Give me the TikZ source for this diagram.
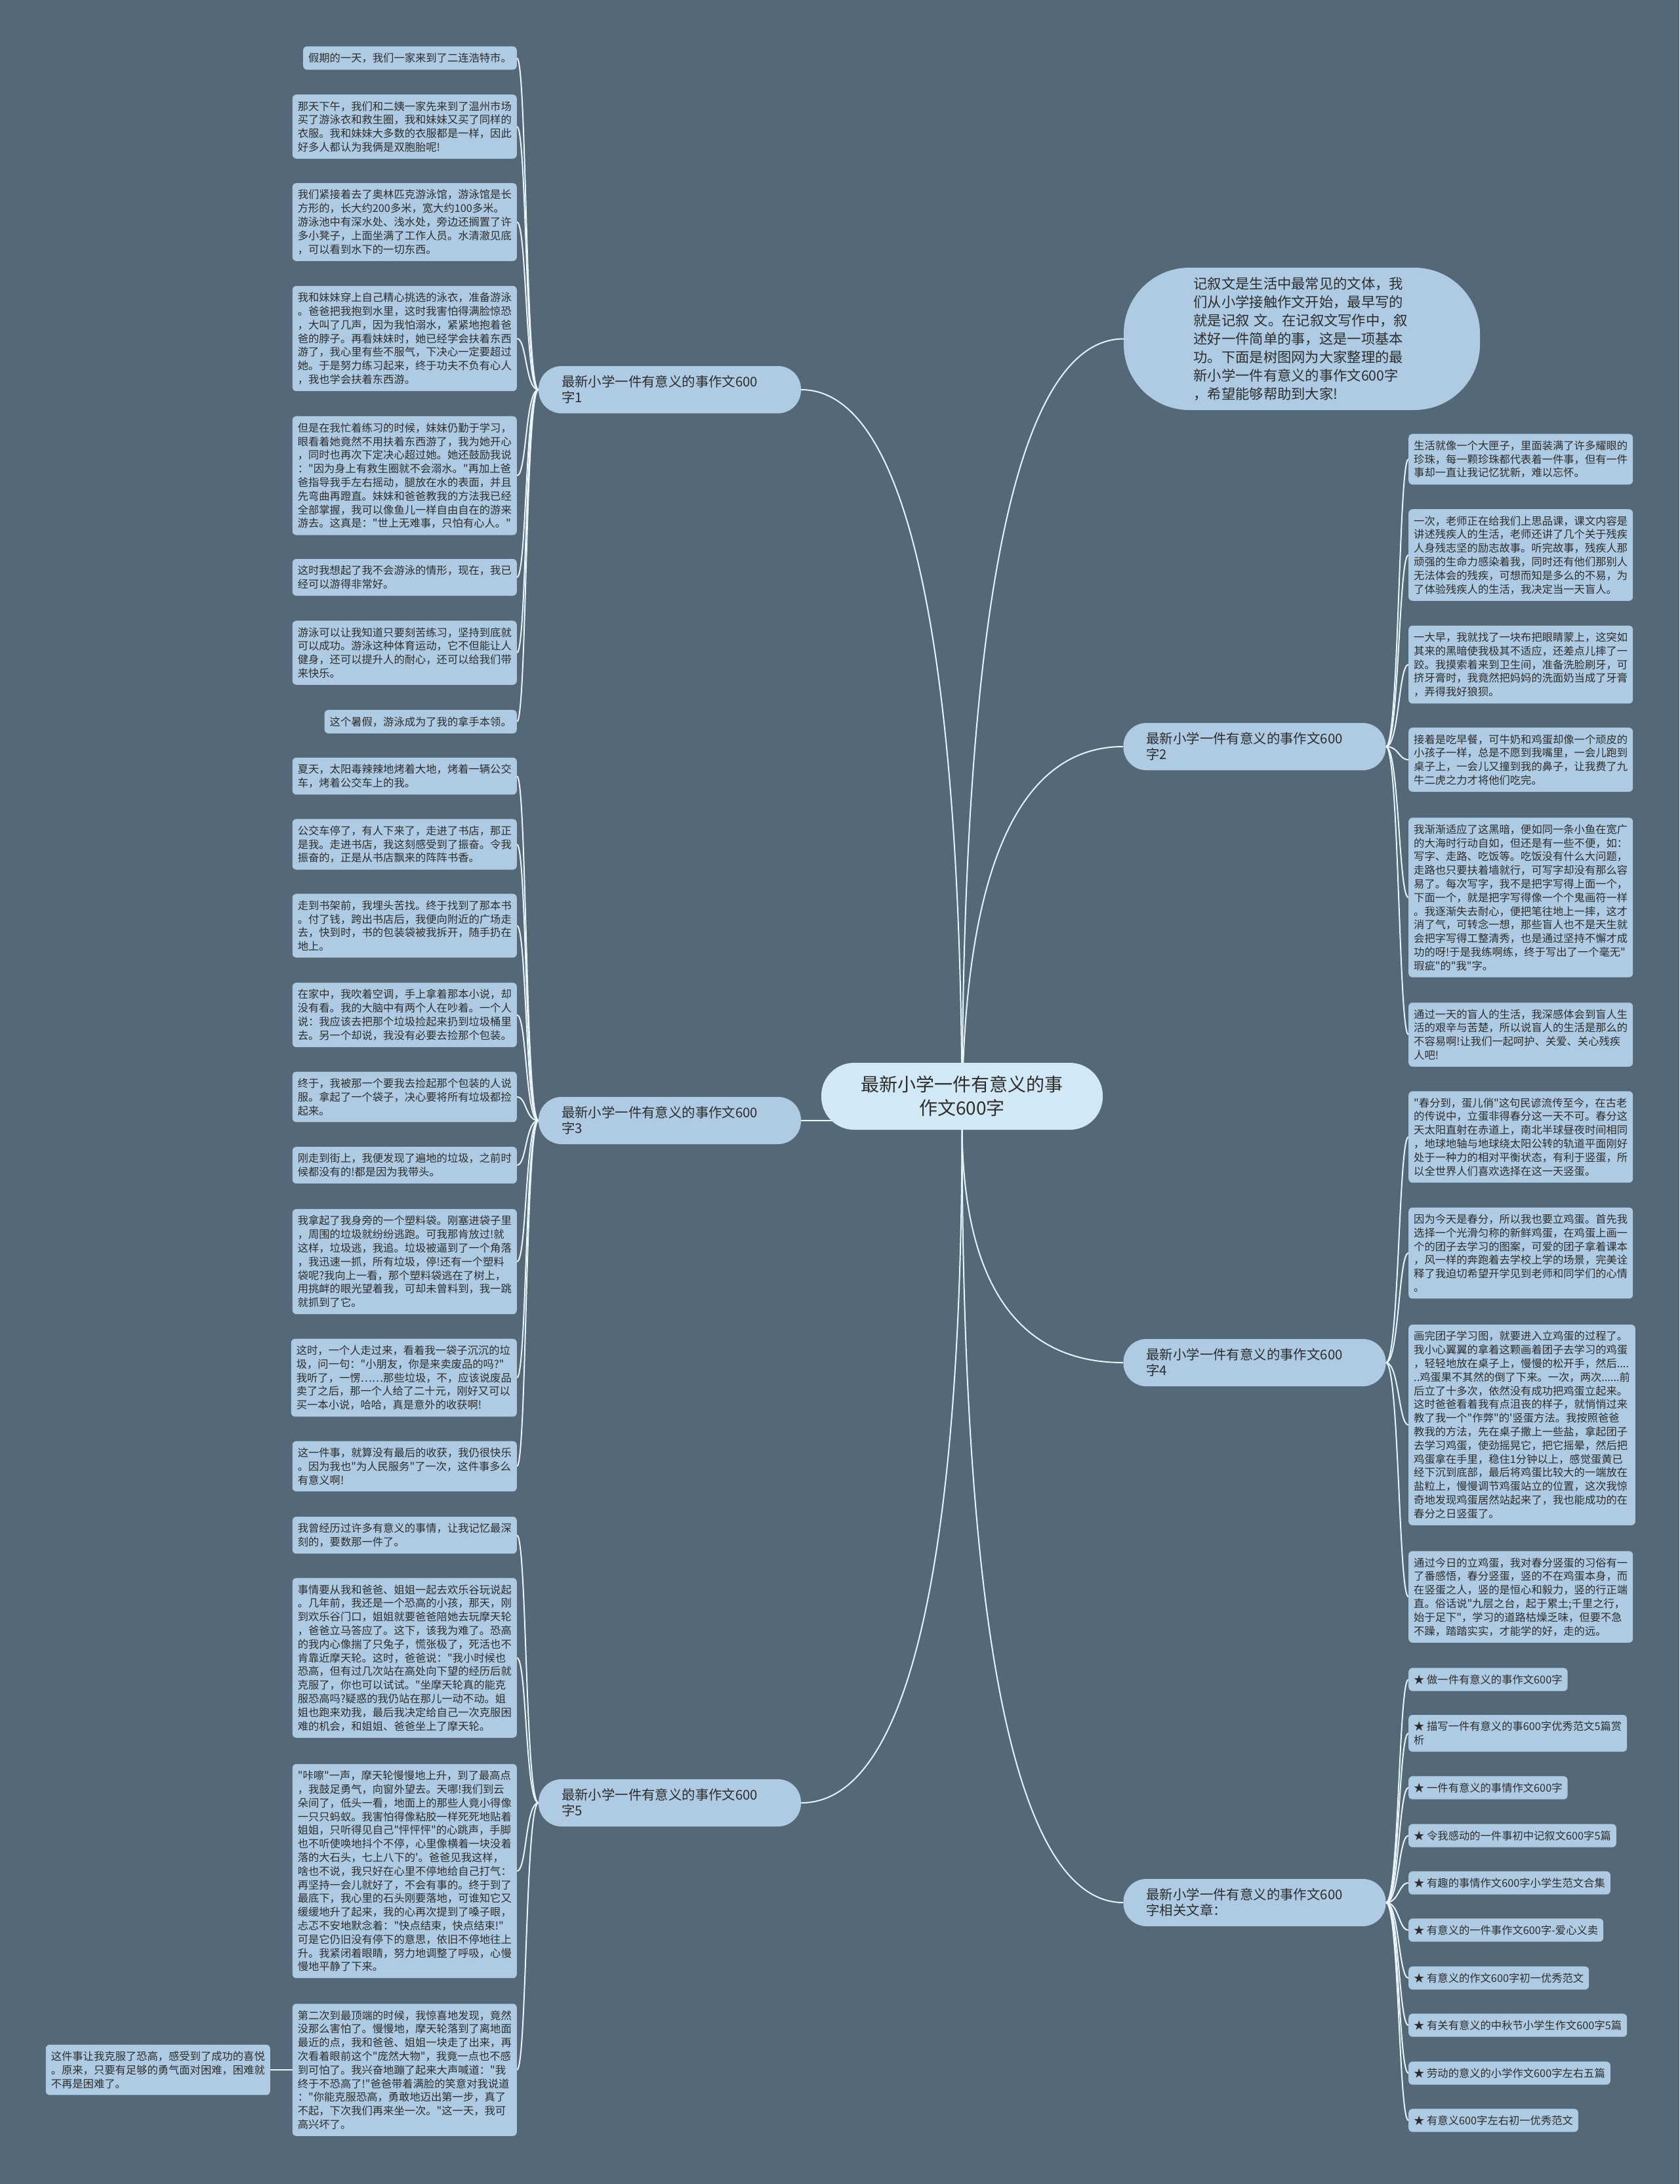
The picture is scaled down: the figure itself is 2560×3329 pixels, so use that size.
\documentclass[tikz,border=0pt]{standalone}
\usepackage{fontspec}
\setmainfont{Noto Sans CJK SC}
\newfontfamily\cjk{Noto Sans CJK SC}
\usetikzlibrary{backgrounds}
\definecolor{mapbg}{RGB}{84,104,120}
\definecolor{leafblue}{RGB}{174,203,227}
\definecolor{rootblue}{RGB}{211,232,245}
\definecolor{wire}{RGB}{232,244,250}
\definecolor{ink}{RGB}{45,45,45}
\newcommand{\leaffont}{\cjk\fontsize{16.3pt}{20.8pt}\selectfont}
\newcommand{\branchfont}{\cjk\fontsize{20.4pt}{24pt}\selectfont}
\newcommand{\rootfont}{\cjk\fontsize{28pt}{36pt}\selectfont}
\newcommand{\introfont}{\cjk\fontsize{21.3pt}{28pt}\selectfont}

\begin{document}
\begin{tikzpicture}[
  x=1pt, y=-1pt,
  leaf/.style={fill=leafblue, text=ink, rounded corners=6pt, inner xsep=8pt, inner ysep=10pt, align=left, font=\leaffont},
  branch/.style={fill=leafblue, text=ink, rounded corners=35pt, minimum width=400pt, minimum height=72pt, text width=330pt, inner ysep=4pt, align=left, font=\branchfont},
  rootnode/.style={fill=rootblue, text=ink, rounded corners=50pt, minimum width=429pt, minimum height=102pt, align=center, font=\rootfont},
  introbox/.style={fill=leafblue, text=ink, rounded corners=100pt, minimum width=543pt, minimum height=217pt, text width=330pt, align=left, font=\introfont},
  link/.style={draw=wire, line width=2pt}
]
\useasboundingbox (0,0) rectangle (2560,3329);

% centre and main branches
\node[rootnode] (root) at (1466.5,1671) {最新小学一件有意义的事\\作文600字};
\coordinate (hub) at ([yshift=10pt]root.south);
\node[introbox] (intro) at (1984.5,516.5) {记叙文是生活中最常见的文体，我\\们从小学接触作文开始，最早写的\\就是记叙 文。在记叙文写作中，叙\\述好一件简单的事，这是一项基本\\功。下面是树图网为大家整理的最\\新小学一件有意义的事作文600字\\，希望能够帮助到大家!};
\node[branch] (essay1) at (1021,594) {最新小学一件有意义的事作文600\\字1};
\node[branch] (essay3) at (1021,1708) {最新小学一件有意义的事作文600\\字3};
\node[branch] (essay5) at (1021,2748) {最新小学一件有意义的事作文600\\字5};
\node[branch] (essay2) at (1912.5,1138) {最新小学一件有意义的事作文600\\字2};
\node[branch] (essay4) at (1912.5,2077) {最新小学一件有意义的事作文600\\字4};
\node[branch] (links) at (1912.5,2900) {最新小学一件有意义的事作文600\\字相关文章：};

% essay 1
\node[leaf, anchor=east] (e1a) at (788,88.5) {假期的一天，我们一家来到了二连浩特市。};
\node[leaf, anchor=east] (e1b) at (788,193) {那天下午，我们和二姨一家先来到了温州市场\\买了游泳衣和救生圈，我和妹妹又买了同样的\\衣服。我和妹妹大多数的衣服都是一样，因此\\好多人都认为我俩是双胞胎呢!};
\node[leaf, anchor=east] (e1c) at (788,338.5) {我们紧接着去了奥林匹克游泳馆，游泳馆是长\\方形的，长大约200多米，宽大约100多米。\\游泳池中有深水处、浅水处，旁边还搁置了许\\多小凳子，上面坐满了工作人员。水清澈见底\\，可以看到水下的一切东西。};
\node[leaf, anchor=east] (e1d) at (788,516) {我和妹妹穿上自己精心挑选的泳衣，准备游泳\\。爸爸把我抱到水里，这时我害怕得满脸惊恐\\，大叫了几声，因为我怕溺水，紧紧地抱着爸\\爸的脖子。再看妹妹时，她已经学会扶着东西\\游了，我心里有些不服气，下决心一定要超过\\她。于是努力练习起来，终于功夫不负有心人\\，我也学会扶着东西游。};
\node[leaf, anchor=east] (e1e) at (788,725) {但是在我忙着练习的时候，妹妹仍勤于学习，\\眼看着她竟然不用扶着东西游了，我为她开心\\，同时也再次下定决心超过她。她还鼓励我说\\："因为身上有救生圈就不会溺水。"再加上爸\\爸指导我手左右摇动，腿放在水的表面，并且\\先弯曲再蹬直。妹妹和爸爸教我的方法我已经\\全部掌握，我可以像鱼儿一样自由自在的游来\\游去。这真是："世上无难事，只怕有心人。"};
\node[leaf, anchor=east] (e1f) at (788,880) {这时我想起了我不会游泳的情形，现在，我已\\经可以游得非常好。};
\node[leaf, anchor=east] (e1g) at (788,995) {游泳可以让我知道只要刻苦练习，坚持到底就\\可以成功。游泳这种体育运动，它不但能让人\\健身，还可以提升人的耐心，还可以给我们带\\来快乐。};
\node[leaf, anchor=east] (e1h) at (788,1100) {这个暑假，游泳成为了我的拿手本领。};

% essay 3
\node[leaf, anchor=east] (e3a) at (788,1183) {夏天，太阳毒辣辣地烤着大地，烤着一辆公交\\车，烤着公交车上的我。};
\node[leaf, anchor=east] (e3b) at (788,1287) {公交车停了，有人下来了，走进了书店，那正\\是我。走进书店，我这刻感受到了振奋。令我\\振奋的，正是从书店飘来的阵阵书香。};
\node[leaf, anchor=east] (e3c) at (788,1411) {走到书架前，我埋头苦找。终于找到了那本书\\。付了钱，跨出书店后，我便向附近的广场走\\去，快到时，书的包装袋被我拆开，随手扔在\\地上。};
\node[leaf, anchor=east] (e3d) at (788,1547) {在家中，我吹着空调，手上拿着那本小说，却\\没有看。我的大脑中有两个人在吵着。一个人\\说：我应该去把那个垃圾捡起来扔到垃圾桶里\\去。另一个却说，我没有必要去捡那个包装。};
\node[leaf, anchor=east] (e3e) at (788,1672) {终于，我被那一个要我去捡起那个包装的人说\\服。拿起了一个袋子，决心要将所有垃圾都捡\\起来。};
\node[leaf, anchor=east] (e3f) at (788,1776) {刚走到街上，我便发现了遍地的垃圾，之前时\\候都没有的!都是因为我带头。};
\node[leaf, anchor=east] (e3g) at (788,1923) {我拿起了我身旁的一个塑料袋。刚塞进袋子里\\，周围的垃圾就纷纷逃跑。可我那肯放过!就\\这样，垃圾逃，我追。垃圾被逼到了一个角落\\，我迅速一抓，所有垃圾，停!还有一个塑料\\袋呢?我向上一看，那个塑料袋逃在了树上，\\用挑衅的眼光望着我，可却未曾料到，我一跳\\就抓到了它。};
\node[leaf, anchor=east] (e3h) at (788,2100) {这时，一个人走过来，看着我一袋子沉沉的垃\\圾，问一句："小朋友，你是来卖废品的吗?"\\我听了，一愣……那些垃圾，不，应该说废品\\卖了之后，那一个人给了二十元，刚好又可以\\买一本小说，哈哈，真是意外的收获啊!};
\node[leaf, anchor=east] (e3i) at (788,2235) {这一件事，就算没有最后的收获，我仍很快乐\\。因为我也"为人民服务"了一次，这件事多么\\有意义啊!};

% essay 5
\node[leaf, anchor=east] (e5a) at (788,2340) {我曾经历过许多有意义的事情，让我记忆最深\\刻的，要数那一件了。};
\node[leaf, anchor=east] (e5b) at (788,2527) {事情要从我和爸爸、姐姐一起去欢乐谷玩说起\\。几年前，我还是一个恐高的小孩，那天，刚\\到欢乐谷门口，姐姐就要爸爸陪她去玩摩天轮\\，爸爸立马答应了。这下，该我为难了。恐高\\的我内心像揣了只兔子，慌张极了，死活也不\\肯靠近摩天轮。这时，爸爸说："我小时候也\\恐高，但有过几次站在高处向下望的经历后就\\克服了，你也可以试试。"坐摩天轮真的能克\\服恐高吗?疑惑的我仍站在那儿一动不动。姐\\姐也跑来劝我，最后我决定给自己一次克服困\\难的机会，和姐姐、爸爸坐上了摩天轮。};
\node[leaf, anchor=east] (e5c) at (788,2852) {"咔嚓"一声，摩天轮慢慢地上升，到了最高点\\，我鼓足勇气，向窗外望去。天哪!我们到云\\朵间了，低头一看，地面上的那些人竟小得像\\一只只蚂蚁。我害怕得像粘胶一样死死地贴着\\姐姐，只听得见自己"怦怦怦"的心跳声，手脚\\也不听使唤地抖个不停，心里像横着一块没着\\落的大石头，七上八下的'。爸爸见我这样，\\啥也不说，我只好在心里不停地给自己打气：\\再坚持一会儿就好了，不会有事的。终于到了\\最底下，我心里的石头刚要落地，可谁知它又\\缓缓地升了起来，我的心再次提到了嗓子眼，\\忐忑不安地默念着："快点结束，快点结束!"\\可是它仍旧没有停下的意思，依旧不停地往上\\升。我紧闭着眼睛，努力地调整了呼吸，心慢\\慢地平静了下来。};
\node[leaf, anchor=east] (e5d) at (788,3155) {第二次到最顶端的时候，我惊喜地发现，竟然\\没那么害怕了。慢慢地，摩天轮落到了离地面\\最近的点，我和爸爸、姐姐一块走了出来，再\\次看着眼前这个"庞然大物"，我竟一点也不感\\到可怕了。我兴奋地蹦了起来大声喊道："我\\终于不恐高了!"爸爸带着满脸的笑意对我说道\\："你能克服恐高，勇敢地迈出第一步，真了\\不起，下次我们再来坐一次。"这一天，我可\\高兴坏了。};
\node[leaf, anchor=east] (e5e) at (412,3155) {这件事让我克服了恐高，感受到了成功的喜悦\\。原来，只要有足够的勇气面对困难，困难就\\不再是困难了。};

% essay 2
\node[leaf, anchor=west] (e2a) at (2147,700) {生活就像一个大匣子，里面装满了许多耀眼的\\珍珠，每一颗珍珠都代表着一件事，但有一件\\事却一直让我记忆犹新，难以忘怀。};
\node[leaf, anchor=west] (e2b) at (2147,846) {一次，老师正在给我们上思品课，课文内容是\\讲述残疾人的生活，老师还讲了几个关于残疾\\人身残志坚的励志故事。听完故事，残疾人那\\顽强的生命力感染着我，同时还有他们那别人\\无法体会的残疾，可想而知是多么的不易，为\\了体验残疾人的生活，我决定当一天盲人。};
\node[leaf, anchor=west] (e2c) at (2147,1013) {一大早，我就找了一块布把眼睛蒙上，这突如\\其来的黑暗使我极其不适应，还差点儿摔了一\\跤。我摸索着来到卫生间，准备洗脸刷牙，可\\挤牙膏时，我竟然把妈妈的洗面奶当成了牙膏\\，弄得我好狼狈。};
\node[leaf, anchor=west] (e2d) at (2147,1158) {接着是吃早餐，可牛奶和鸡蛋却像一个顽皮的\\小孩子一样，总是不愿到我嘴里，一会儿跑到\\桌子上，一会儿又撞到我的鼻子，让我费了九\\牛二虎之力才将他们吃完。};
\node[leaf, anchor=west] (e2e) at (2147,1368) {我渐渐适应了这黑暗，便如同一条小鱼在宽广\\的大海时行动自如，但还是有一些不便，如：\\写字、走路、吃饭等。吃饭没有什么大问题，\\走路也只要扶着墙就行，可写字却没有那么容\\易了。每次写字，我不是把字写得上面一个，\\下面一个，就是把字写得像一个个鬼画符一样\\。我逐渐失去耐心，便把笔往地上一摔，这才\\消了气，可转念一想，那些盲人也不是天生就\\会把字写得工整清秀，也是通过坚持不懈才成\\功的呀!于是我练啊练，终于写出了一个毫无"\\瑕疵"的"我"字。};
\node[leaf, anchor=west] (e2f) at (2147,1577) {通过一天的盲人的生活，我深感体会到盲人生\\活的艰辛与苦楚，所以说盲人的生活是那么的\\不容易啊!让我们一起呵护、关爱、关心残疾\\人吧!};

% essay 4
\node[leaf, anchor=west] (e4a) at (2147,1733) {"春分到，蛋儿俏"这句民谚流传至今，在古老\\的传说中，立蛋非得春分这一天不可。春分这\\天太阳直射在赤道上，南北半球昼夜时间相同\\，地球地轴与地球绕太阳公转的轨道平面刚好\\处于一种力的相对平衡状态，有利于竖蛋，所\\以全世界人们喜欢选择在这一天竖蛋。};
\node[leaf, anchor=west] (e4b) at (2147,1910) {因为今天是春分，所以我也要立鸡蛋。首先我\\选择一个光滑匀称的新鲜鸡蛋，在鸡蛋上画一\\个的团子去学习的图案，可爱的团子拿着课本\\，风一样的奔跑着去学校上学的场景，完美诠\\释了我迫切希望开学见到老师和同学们的心情\\。};
\node[leaf, anchor=west] (e4c) at (2147,2172) {画完团子学习图，就要进入立鸡蛋的过程了。\\我小心翼翼的拿着这颗画着团子去学习的鸡蛋\\，轻轻地放在桌子上，慢慢的松开手，然后....\\..鸡蛋果不其然的倒了下来。一次，两次......前\\后立了十多次，依然没有成功把鸡蛋立起来。\\这时爸爸看着我有点沮丧的样子，就悄悄过来\\教了我一个"作弊"的'竖蛋方法。我按照爸爸\\教我的方法，先在桌子撒上一些盐，拿起团子\\去学习鸡蛋，使劲摇晃它，把它摇晕，然后把\\鸡蛋拿在手里，稳住1分钟以上，感觉蛋黄已\\经下沉到底部，最后将鸡蛋比较大的一端放在\\盐粒上，慢慢调节鸡蛋站立的位置，这次我惊\\奇地发现鸡蛋居然站起来了，我也能成功的在\\春分之日竖蛋了。};
\node[leaf, anchor=west] (e4d) at (2147,2434) {通过今日的立鸡蛋，我对春分竖蛋的习俗有一\\了番感悟，春分竖蛋，竖的不在鸡蛋本身，而\\在竖蛋之人，竖的是恒心和毅力，竖的行正端\\直。俗话说"九层之台，起于累土;千里之行，\\始于足下"，学习的道路枯燥乏味，但要不急\\不躁，踏踏实实，才能学的好，走的远。};

% related articles
\node[leaf, anchor=west] (lk1) at (2147,2560) {★ 做一件有意义的事作文600字};
\node[leaf, anchor=west] (lk2) at (2147,2642) {★ 描写一件有意义的事600字优秀范文5篇赏\\析};
\node[leaf, anchor=west] (lk3) at (2147,2725) {★ 一件有意义的事情作文600字};
\node[leaf, anchor=west] (lk4) at (2147,2798) {★ 令我感动的一件事初中记叙文600字5篇};
\node[leaf, anchor=west] (lk5) at (2147,2870) {★ 有趣的事情作文600字小学生范文合集};
\node[leaf, anchor=west] (lk6) at (2147,2942) {★ 有意义的一件事作文600字-爱心义卖};
\node[leaf, anchor=west] (lk7) at (2147,3015) {★ 有意义的作文600字初一优秀范文};
\node[leaf, anchor=west] (lk8) at (2147,3087) {★ 有关有意义的中秋节小学生作文600字5篇};
\node[leaf, anchor=west] (lk9) at (2147,3160) {★ 劳动的意义的小学作文600字左右五篇};
\node[leaf, anchor=west] (lk10) at (2147,3232) {★ 有意义600字左右初一优秀范文};

\begin{scope}[on background layer]
\fill[mapbg] (0,0) rectangle (2560,3329);
% centre to branches
\draw[link] (hub) .. controls +(0,-559) and +(195,0) .. (essay1.east);
\draw[link] (hub) .. controls +(0,-2) and +(195,0) .. (essay3.east);
\draw[link] (hub) .. controls +(0,518) and +(195,0) .. (essay5.east);
\draw[link] (hub) .. controls +(0,-598) and +(-198,0) .. (intro.west);
\draw[link] (hub) .. controls +(0,-287) and +(-198,0) .. (essay2.west);
\draw[link] (hub) .. controls +(0,182) and +(-198,0) .. (essay4.west);
\draw[link] (hub) .. controls +(0,594) and +(-198,0) .. (links.west);
% essay 1
\draw[link] (essay1.west) .. controls +(-20,0) and +(15,0) .. (e1a.east);
\draw[link] (essay1.west) .. controls +(-20,0) and +(15,0) .. (e1b.east);
\draw[link] (essay1.west) .. controls +(-20,0) and +(15,0) .. (e1c.east);
\draw[link] (essay1.west) .. controls +(-20,0) and +(15,0) .. (e1d.east);
\draw[link] (essay1.west) .. controls +(-20,0) and +(15,0) .. (e1e.east);
\draw[link] (essay1.west) .. controls +(-20,0) and +(15,0) .. (e1f.east);
\draw[link] (essay1.west) .. controls +(-20,0) and +(15,0) .. (e1g.east);
\draw[link] (essay1.west) .. controls +(-20,0) and +(15,0) .. (e1h.east);
% essay 3
\draw[link] (essay3.west) .. controls +(-20,0) and +(15,0) .. (e3a.east);
\draw[link] (essay3.west) .. controls +(-20,0) and +(15,0) .. (e3b.east);
\draw[link] (essay3.west) .. controls +(-20,0) and +(15,0) .. (e3c.east);
\draw[link] (essay3.west) .. controls +(-20,0) and +(15,0) .. (e3d.east);
\draw[link] (essay3.west) .. controls +(-20,0) and +(15,0) .. (e3e.east);
\draw[link] (essay3.west) .. controls +(-20,0) and +(15,0) .. (e3f.east);
\draw[link] (essay3.west) .. controls +(-20,0) and +(15,0) .. (e3g.east);
\draw[link] (essay3.west) .. controls +(-20,0) and +(15,0) .. (e3h.east);
\draw[link] (essay3.west) .. controls +(-20,0) and +(15,0) .. (e3i.east);
% essay 5
\draw[link] (essay5.west) .. controls +(-20,0) and +(15,0) .. (e5a.east);
\draw[link] (essay5.west) .. controls +(-20,0) and +(15,0) .. (e5b.east);
\draw[link] (essay5.west) .. controls +(-20,0) and +(15,0) .. (e5c.east);
\draw[link] (essay5.west) .. controls +(-20,0) and +(15,0) .. (e5d.east);
\draw[link] (e5d.west) -- (e5e.east);
% essay 2
\draw[link] (essay2.east) .. controls +(20,0) and +(-15,0) .. (e2a.west);
\draw[link] (essay2.east) .. controls +(20,0) and +(-15,0) .. (e2b.west);
\draw[link] (essay2.east) .. controls +(20,0) and +(-15,0) .. (e2c.west);
\draw[link] (essay2.east) .. controls +(20,0) and +(-15,0) .. (e2d.west);
\draw[link] (essay2.east) .. controls +(20,0) and +(-15,0) .. (e2e.west);
\draw[link] (essay2.east) .. controls +(20,0) and +(-15,0) .. (e2f.west);
% essay 4
\draw[link] (essay4.east) .. controls +(20,0) and +(-15,0) .. (e4a.west);
\draw[link] (essay4.east) .. controls +(20,0) and +(-15,0) .. (e4b.west);
\draw[link] (essay4.east) .. controls +(20,0) and +(-15,0) .. (e4c.west);
\draw[link] (essay4.east) .. controls +(20,0) and +(-15,0) .. (e4d.west);
% related articles
\draw[link] (links.east) .. controls +(20,0) and +(-15,0) .. (lk1.west);
\draw[link] (links.east) .. controls +(20,0) and +(-15,0) .. (lk2.west);
\draw[link] (links.east) .. controls +(20,0) and +(-15,0) .. (lk3.west);
\draw[link] (links.east) .. controls +(20,0) and +(-15,0) .. (lk4.west);
\draw[link] (links.east) .. controls +(20,0) and +(-15,0) .. (lk5.west);
\draw[link] (links.east) .. controls +(20,0) and +(-15,0) .. (lk6.west);
\draw[link] (links.east) .. controls +(20,0) and +(-15,0) .. (lk7.west);
\draw[link] (links.east) .. controls +(20,0) and +(-15,0) .. (lk8.west);
\draw[link] (links.east) .. controls +(20,0) and +(-15,0) .. (lk9.west);
\draw[link] (links.east) .. controls +(20,0) and +(-15,0) .. (lk10.west);
\end{scope}
\end{tikzpicture}
\end{document}
